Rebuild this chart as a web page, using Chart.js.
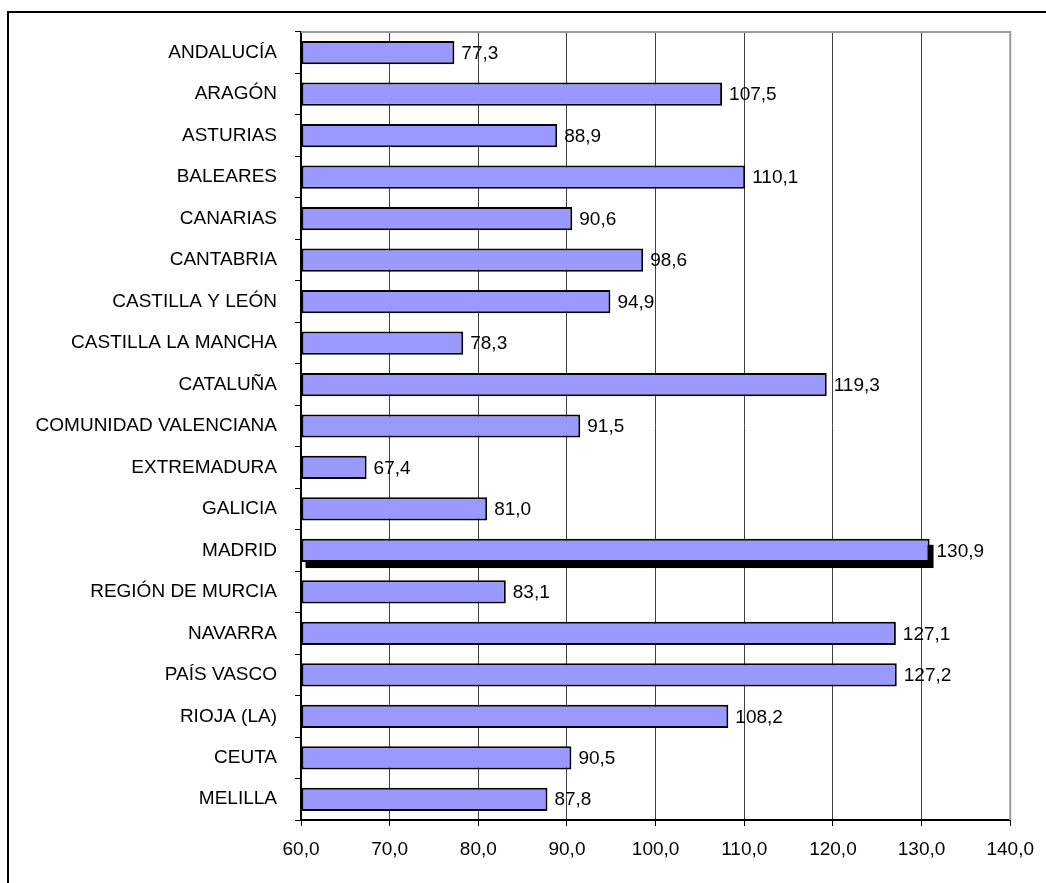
<!DOCTYPE html>
<html>
<head>
<meta charset="utf-8">
<script src="https://cdn.jsdelivr.net/npm/chart.js@4/dist/chart.umd.min.js"></script>
<style>
  html, body { margin: 0; padding: 0; background: #fff; overflow: hidden; }
  #wrap { position: relative; width: 1046px; height: 883px; }
  #frame { position: absolute; left: 7px; top: 11px; width: 2000px; height: 2000px; border: 2px solid #000; box-sizing: border-box; pointer-events: none; }
  canvas { position: absolute; left: 0; top: 0; }
</style>
</head>
<body>
<div id="wrap">
  <canvas id="c" width="1046" height="883"></canvas>
  <div id="frame"></div>
</div>
<script>
const categories = ["ANDALUCÍA", "ARAGÓN", "ASTURIAS", "BALEARES", "CANARIAS", "CANTABRIA", "CASTILLA Y LEÓN", "CASTILLA LA MANCHA", "CATALUÑA", "COMUNIDAD VALENCIANA", "EXTREMADURA", "GALICIA", "MADRID", "REGIÓN DE MURCIA", "NAVARRA", "PAÍS VASCO", "RIOJA (LA)", "CEUTA", "MELILLA"];
const values = [77.3, 107.5, 88.9, 110.1, 90.6, 98.6, 94.9, 78.3, 119.3, 91.5, 67.4, 81.0, 130.9, 83.1, 127.1, 127.2, 108.2, 90.5, 87.8];
const highlighted = ["MADRID"];
const xMin = 60, xMax = 140, xStep = 10;

const FONT = '"Liberation Sans", Arial, sans-serif';
const fmt = v => v.toFixed(1).replace('.', ',');

const shadowPlugin = {
  id: 'shadow',
  beforeDatasetsDraw(chart) {
    const meta = chart.getDatasetMeta(0);
    const ctx = chart.ctx;
    ctx.save();
    ctx.fillStyle = '#000';
    categories.forEach((c, i) => {
      if (!highlighted.includes(c)) return;
      const b = meta.data[i];
      const left = Math.min(b.base, b.x), right = Math.max(b.base, b.x);
      ctx.fillRect(left + 4, b.y - b.height / 2 + 6, right - left, b.height);
    });
    ctx.restore();
  }
};

const labelPlugin = {
  id: 'valueLabels',
  afterDatasetsDraw(chart) {
    const meta = chart.getDatasetMeta(0);
    const ctx = chart.ctx;
    ctx.save();
    ctx.font = '19px ' + FONT;
    ctx.fillStyle = '#000';
    ctx.textAlign = 'left';
    ctx.textBaseline = 'middle';
    meta.data.forEach((b, i) => {
      ctx.fillText(fmt(values[i]), b.x + 7, b.y + 1);
    });
    ctx.restore();
  }
};

const frameAreaPlugin = {
  id: 'areaFrame',
  afterDatasetsDraw(chart) {
    const a = chart.chartArea;
    const ctx = chart.ctx;
    ctx.save();
    ctx.strokeStyle = '#9a9a9a';
    ctx.lineWidth = 2;
    ctx.beginPath();
    ctx.moveTo(a.left, a.top);
    ctx.lineTo(a.right, a.top);
    ctx.lineTo(a.right, a.bottom);
    ctx.stroke();
    ctx.restore();
  }
};

new Chart(document.getElementById('c'), {
  type: 'bar',
  data: {
    labels: categories,
    datasets: [{
      data: values,
      base: xMin,
      backgroundColor: '#9999FF',
      borderColor: '#000',
      borderWidth: 2,
      borderSkipped: false,
      barPercentage: 0.56,
      categoryPercentage: 1.0
    }]
  },
  options: {
    indexAxis: 'y',
    responsive: false,
    animation: false,
    devicePixelRatio: 1,
    layout: { padding: { top: 32, right: 33, left: 0, bottom: 0 } },
    plugins: { legend: { display: false }, tooltip: { enabled: false } },
    scales: {
      x: {
        type: 'linear',
        min: xMin, max: xMax,
        afterFit(s) { s.height = 63; },
        ticks: {
          stepSize: xStep,
          callback: v => fmt(v),
          color: '#000',
          font: { family: FONT, size: 19 },
          padding: 12
        },
        grid: { color: '#404040', lineWidth: 1, tickLength: 6, tickColor: '#000' },
        border: { color: '#000', width: 2 }
      },
      y: {
        afterFit(s) { s.width = 301; },
        ticks: {
          color: '#000',
          font: { family: FONT, size: 19 },
          padding: 18
        },
        grid: { drawOnChartArea: false, tickLength: 6, tickColor: '#000', offset: true },
        border: { color: '#000', width: 2 }
      }
    }
  },
  plugins: [shadowPlugin, labelPlugin, frameAreaPlugin]
});
</script>
</body>
</html>
